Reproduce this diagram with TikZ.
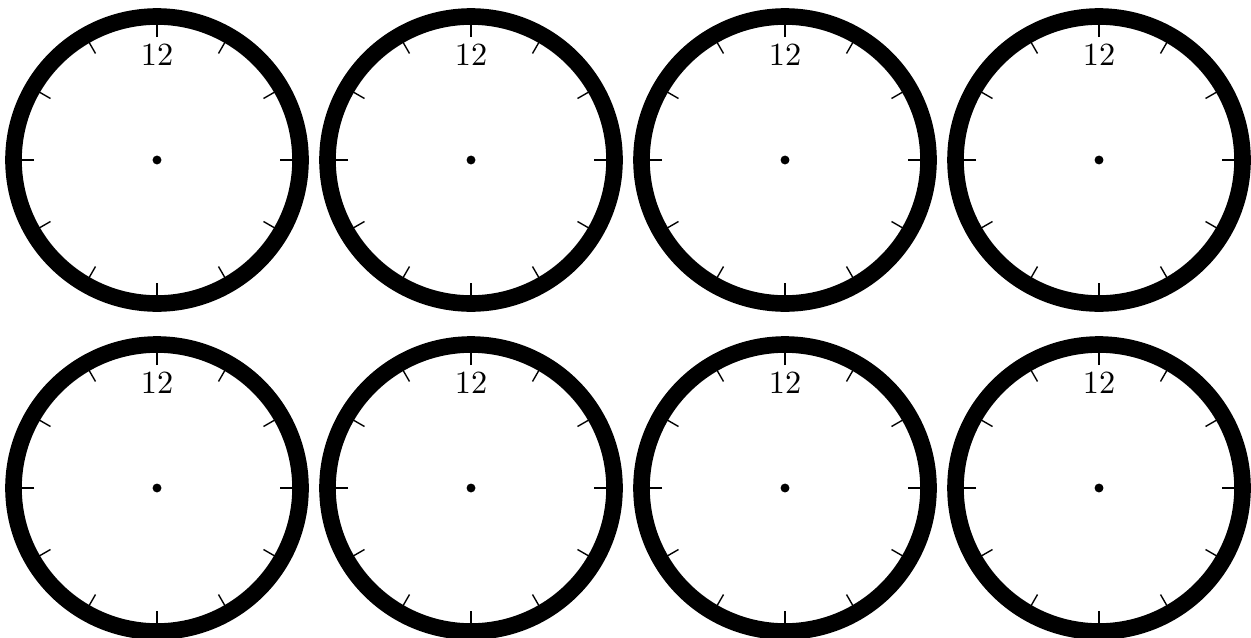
\documentclass[tikz,border=0pt]{standalone}
\usetikzlibrary{calc}
\begin{document}
\begin{tikzpicture}[x=0.325pt,y=-0.325pt,
  ring/.style={line width=5.4pt,draw=black},
  tick/.style={line width=0.45pt,draw=black},
  hub/.style={circle,fill=black,inner sep=0pt,minimum size=2.9pt},
  numlabel/.style={font=\fontsize{10.5}{12}\selectfont,anchor=base,inner sep=0pt}]
\useasboundingbox (0,0) rectangle (1251,637);
\foreach \r/\cy in {1/160,2/488}{
  \foreach \c/\cx in {1/157,2/471,3/785,4/1099}{
    \node[hub] (c\r\c) at (\cx,\cy) {};
    \draw[ring] (c\r\c.center) circle[radius=143.5];
    \foreach \a in {0,30,...,330}{
      \draw[tick] ($(c\r\c.center)+(\a:123)$) -- ($(c\r\c.center)+(\a:140)$);
    }
    \node[numlabel] (t\r\c) at ($(c\r\c.center)+(0,-95)$) {12};
  }
}
\end{tikzpicture}
\end{document}
